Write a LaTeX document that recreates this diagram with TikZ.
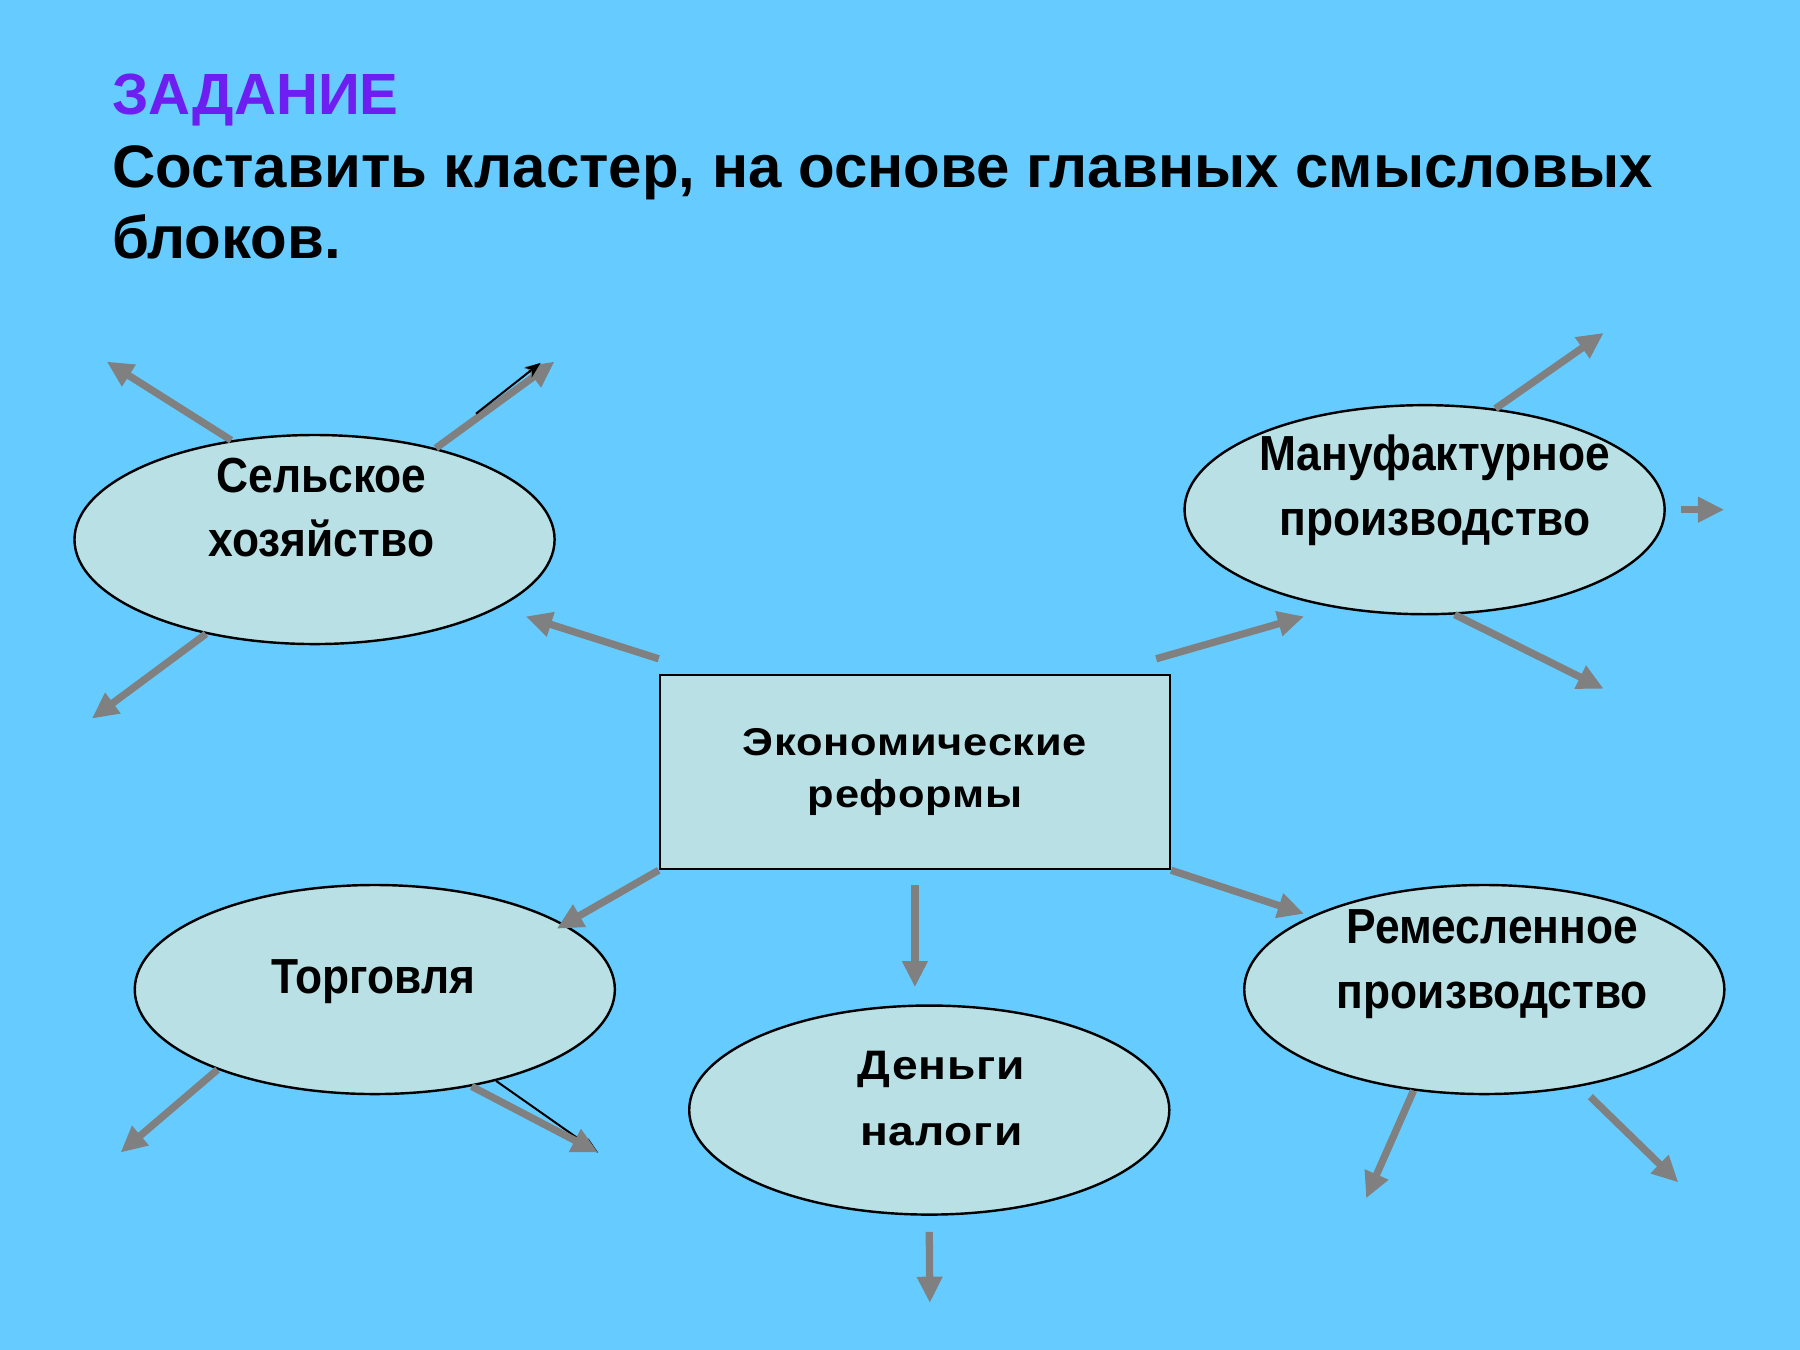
\documentclass[tikz,border=0pt]{standalone}
\usepackage{fontspec}
\setmainfont{Liberation Sans}
\newfontfamily\narrowfont[FakeStretch=0.9]{Liberation Sans}
\newfontfamily\widefont[FakeStretch=1.12,LetterSpace=2]{Liberation Sans}
\usetikzlibrary{shapes.geometric,arrows.meta}
\definecolor{skyColor}{RGB}{102,204,255}
\definecolor{paleColor}{RGB}{185,224,228}
\definecolor{rayColor}{RGB}{128,128,128}
\definecolor{violetColor}{RGB}{110,30,240}

\begin{document}
\begin{tikzpicture}[x=0.01cm, y=-0.01cm,
    oval/.style={draw=black, line width=0.6pt, fill=paleColor, ellipse, minimum width=4.18cm, minimum height=1.82cm},
    ovaltext/.style={align=center, font=\narrowfont\bfseries\fontsize{12.2}{16}\selectfont},
    headline/.style={anchor=base west, inner sep=0, font=\bfseries\fontsize{14.85}{18}\selectfont},
    ray/.style={-{Triangle[length=6.5pt,width=6pt]}, line width=1.8pt, rayColor},
    thinray/.style={-{Stealth[length=4pt,width=3pt]}, line width=0.5pt, black}]
    % background
    \fill[skyColor] (0,0) rectangle (1568,1176);
    % task text
    \node[headline, text=violetColor, font=\bfseries\fontsize{14.4}{18}\selectfont] (task) at (97,100) {ЗАДАНИЕ};
    \node[headline] (taskA) at (97,163) {Составить кластер, на основе главных смысловых};
    \node[headline] (taskB) at (97,225) {блоков.};
    % centre block
    \node[draw=black, line width=0.6pt, fill=paleColor, minimum width=4.44cm, minimum height=1.69cm, align=center, font=\widefont\bfseries\fontsize{9.6}{13.1}\selectfont] (econ) at (797,672.5) {Экономические\\реформы};
    % ovals
    \node[oval] (agri) at (274,470) {};
    \node[ovaltext] (agrilbl) at (280,442) {Сельское\\хозяйство};
    \node[oval] (manu) at (1241,444) {};
    \node[ovaltext] (manulbl) at (1250,427) {Мануфактурное\\производство};
    \node[oval] (trade) at (326.5,862) {};
    \node[ovaltext] (tradelbl) at (325,855) {Торговля};
    \node[oval] (money) at (809.5,967) {};
    \node[align=center, font=\widefont\bfseries\fontsize{10.2}{16.2}\selectfont] (moneylbl) at (820,957) {Деньги\\налоги};
    \node[oval] (craft) at (1293,862) {};
    \node[ovaltext] (craftlbl) at (1300,840) {Ремесленное\\производство};
    % free arrow ends
    \coordinate (agriIn) at (458,537);
    \coordinate (agriA) at (93,315);
    \coordinate (agriB) at (483,315);
    \coordinate (agriC) at (80,626);
    \coordinate (manuIn) at (1136,537);
    \coordinate (manuA) at (1397,290);
    \coordinate (manuB) at (1502,444);
    \coordinate (manuC) at (1397,600);
    \coordinate (tradeIn) at (485,809);
    \coordinate (tradeA) at (105,1004);
    \coordinate (tradeB) at (521,1004);
    \coordinate (moneyIn) at (797,860);
    \coordinate (moneyA) at (810,1135);
    \coordinate (craftIn) at (1136,796);
    \coordinate (craftA) at (1190,1044);
    \coordinate (craftB) at (1462,1030);
    % arrows
    \draw[ray] ([yshift=3.7pt]econ.north west) -- (agriIn);
    \draw[ray] (agri.130) -- (agriA);
    \draw[ray] (agri.37) -- (agriB);
    \draw[thinray] ([shift={(35,-30)}]agri.37) -- ([shift={(-12,1)}]agriB);
    \draw[ray] (agri.221) -- (agriC);
    \draw[ray] ([xshift=-3.7pt,yshift=3.7pt]econ.north east) -- (manuIn);
    \draw[ray] (manu.55) -- (manuA);
    \draw[ray] ([xshift=3.7pt]manu.east) -- (manuB);
    \draw[ray] (manu.286) -- (manuC);
    \draw[ray] (econ.south west) -- (tradeIn);
    \draw[ray] (trade.207) -- (tradeA);
    \draw[thinray] (trade.323) -- (tradeB);
    \draw[ray] (trade.315) -- (tradeB);
    \draw[ray] ([yshift=-3.7pt]econ.south) -- (moneyIn);
    \draw[ray] ([yshift=-4pt]money.south) -- (moneyA);
    \draw[ray] (econ.south east) -- (craftIn);
    \draw[ray] (craft.235) -- (craftA);
    \draw[ray] ([shift={(8,9)}]craft.315) -- (craftB);
\end{tikzpicture}
\end{document}
